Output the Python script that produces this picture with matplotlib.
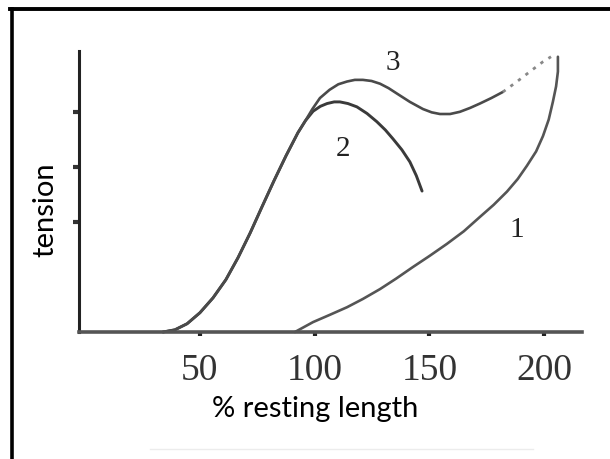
import matplotlib
matplotlib.use("Agg")
import matplotlib.pyplot as plt
from matplotlib.lines import Line2D

# ---- data (x: % resting length, y: tension, arbitrary units) ----
x_ticks = [50, 100, 150, 200]
x_tick_labels = ["50", "100", "150", "200"]
y_ticks = [2, 3, 4]

# curve 1: passive tension
c1_x = [91.4, 99.3, 106.5, 114.1, 121.0, 128.5, 135.5, 142.8, 150.0, 157.6, 165.0,
        172.0, 178.0, 183.8, 188.5, 192.5, 196.5, 199.5, 202.0, 203.8, 205.2, 206.0, 206.0]
c1_y = [0.0, 0.18, 0.31, 0.45, 0.60, 0.78, 0.97, 1.18, 1.38, 1.60, 1.83,
        2.09, 2.31, 2.55, 2.78, 3.02, 3.28, 3.56, 3.86, 4.18, 4.46, 4.73, 5.0]

# shared rising limb of curves 2 and 3
rise_x = [33.9, 39.1, 44.4, 50.0, 55.7, 61.3, 66.6, 71.9, 77.0, 82.3, 87.5, 92.7, 96.0]
rise_y = [0.0, 0.04, 0.15, 0.35, 0.62, 0.95, 1.35, 1.80, 2.27, 2.75, 3.20, 3.62, 3.84]

# curve 2: active tension (after it leaves the shared limb)
c2_x = rise_x + [99.3, 102.5, 105.4, 108.5, 111.0, 114.5, 118.4, 122.8, 127.1,
                 130.8, 134.1, 138.0, 141.5, 144.3, 146.8]
c2_y = rise_y + [4.01, 4.10, 4.15, 4.18, 4.18, 4.15, 4.09, 3.97, 3.82,
                 3.67, 3.51, 3.31, 3.09, 2.84, 2.56]

# curve 3: total tension (solid part)
c3_x = rise_x + [99.0, 102.3, 106.5, 110.3, 114.1, 117.5, 121.0, 124.8, 128.5,
                 132.2, 135.9, 141.5, 147.2, 151.0, 154.6, 159.0, 163.3, 167.7, 172.0,
                 177.0, 182.0]
c3_y = rise_y + [4.05, 4.25, 4.40, 4.50, 4.55, 4.58, 4.58, 4.56, 4.51,
                 4.43, 4.33, 4.18, 4.05, 3.99, 3.96, 3.96, 4.00, 4.07, 4.15,
                 4.25, 4.36]

# curve 3: dotted continuation
c3d_x = [182.0, 188.2, 193.8, 199.5, 203.0]
c3d_y = [4.36, 4.55, 4.73, 4.91, 5.0]

labels_txt = ["1", "2", "3"]
labels_x = [188.2, 112.3, 134.0]
labels_y = [1.88, 3.35, 4.9]

# ---- figure ----
W, H = 610, 460
fig = plt.figure(figsize=(W / 100, H / 100), dpi=100)
fig.patch.set_facecolor("white")

ax_left, ax_right = 79, 582
ax_top, ax_bottom = 51.7, 333
ax = fig.add_axes([ax_left / W, 1 - ax_bottom / H, (ax_right - ax_left) / W,
                   (ax_bottom - ax_top) / H])
ax.set_xlim(-2.7, 216.5)
ax.set_ylim(0, 5.11)
ax.patch.set_alpha(0)

for s in ["top", "right"]:
    ax.spines[s].set_visible(False)
ax.spines["left"].set_color("#222222")
ax.spines["left"].set_linewidth(2.2)
ax.spines["bottom"].set_color("#555555")
ax.spines["bottom"].set_linewidth(2.6)

ax.plot(c1_x, c1_y, color="#555555", lw=1.9, solid_capstyle="round", clip_on=False)
ax.plot(c2_x, c2_y, color="#3a3a3a", lw=2.1, solid_capstyle="round", clip_on=False)
ax.plot(c3_x, c3_y, color="#4a4a4a", lw=1.9, solid_capstyle="round", clip_on=False)
ax.plot(c3d_x, c3d_y, color="#888888", lw=2.0, linestyle=(0, (1.2, 2.2)), clip_on=False)

for t, x, y in zip(labels_txt, labels_x, labels_y):
    ax.text(x, y, t, fontsize=21, family="Liberation Serif", color="#222222",
            ha="center", va="center")

ax.set_xticks(x_ticks)
ax.set_xticklabels(x_tick_labels, family="Liberation Serif", fontsize=27, color="#333333")
ax.tick_params(axis="x", direction="out", length=3, width=3, color="#222222", pad=12)
ax.set_yticks(y_ticks)
ax.set_yticklabels([])
ax.tick_params(axis="y", direction="out", length=4, width=3, color="#333333")

fig.text(315 / W, 1 - 417 / H, "% resting length", family="Lato", fontsize=21,
         ha="center", va="baseline", color="black")
fig.text(45 / W, 1 - 210 / H, "tension", family="Lato", fontsize=21, rotation=90,
         ha="center", va="center", color="black")

# frame of the picture (left and top edges)
fig.add_artist(Line2D([11.5 / W, 11.5 / W], [0, 1 - 10 / H], color="black", lw=2.6,
                      transform=fig.transFigure))
fig.add_artist(Line2D([10 / W, 1], [1 - 10 / H, 1 - 10 / H], color="black", lw=2.8,
                      transform=fig.transFigure))
# faint scan line under the axis title
fig.add_artist(Line2D([150 / W, 533 / W], [1 - 450 / H, 1 - 450 / H], color="#ececec",
                      lw=1, transform=fig.transFigure))

fig.savefig("out.png", dpi=100)
